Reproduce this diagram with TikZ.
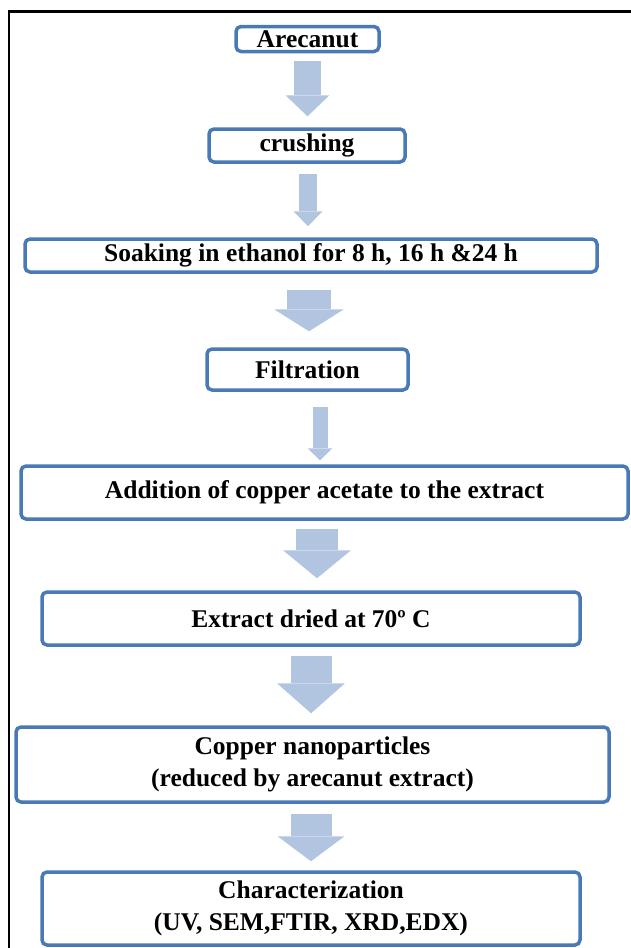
\documentclass[tikz,border=0pt]{standalone}
\usepackage{fontspec}
\setmainfont{Liberation Serif}
\usetikzlibrary{
    arrows.meta,
    positioning,
    calc
}

\begin{document}
\begin{tikzpicture}[x=1pt, y=-1pt]
% Define palette
\definecolor{boxblue}{RGB}{74, 122, 182}
\definecolor{arrowblue}{RGB}{178, 197, 224}

\tikzset{
    stepbox/.style={draw=boxblue, line width=3.5pt, rounded corners=5pt, fill=white,
        align=center, inner sep=0pt,
        font=\fontsize{25.5}{32}\selectfont\bfseries},
    flowarrow/.style n args={3}{draw=arrowblue, line width=#1pt,
        -{Triangle[width=#2pt, length=#3pt, line width=0pt]}}
}

\useasboundingbox (0,0) rectangle (631,948);

% outer frame
\draw[line width=2.5pt] (650,11.5) -- (9,11.5) -- (9,970);

% steps
\node[stepbox, minimum width=143, minimum height=25] (nut) at (307.5,39) {Arecanut};
\node[stepbox, minimum width=196, minimum height=33] (crush) at (307,145.5) {crushing};
\node[stepbox, minimum width=572, minimum height=33] (soak) at (311,255.5) {Soaking in ethanol for 8 h, 16 h \&24 h};
\node[stepbox, minimum width=201, minimum height=41] (filt) at (307.5,369.5) {Filtration};
\node[stepbox, minimum width=607, minimum height=53] (add) at (324.5,492.5) {Addition of copper acetate to the extract};
\node[stepbox, minimum width=538, minimum height=53] (dry) at (311,618.5) {Extract dried at 70º C};
\node[stepbox, minimum width=593, minimum height=75] (cunp) at (312.5,764.5) {Copper nanoparticles\\(reduced by arecanut extract)};
\node[stepbox, minimum width=538, minimum height=73] (char) at (311,908.5) {Characterization\\(UV, SEM,FTIR, XRD,EDX)};

% block arrows: from/to/xshift/shaft/head width/head length/gap start/gap end
\foreach \a/\b/\dx/\sw/\hw/\hl/\gs/\ge in {
    nut/crush/0/27/44/21/8/11,
    crush/soak/1/18/29/15/10/11,
    soak/filt/-2/44/70/22/16/16,
    filt/add/12.5/15/25/12/15/4,
    add/dry/-7.5/42/68/28/8/12,
    dry/cunp/0/41/68/30/9/12,
    cunp/char/-1.5/41/67/25/10/9
} {
    \draw[flowarrow={\sw}{\hw}{\hl}, shorten <=\gs pt, shorten >=\ge pt]
        ($(\a.south)+(\dx,0)$) -- ($(\b.north -| \a.south)+(\dx,0)$);
}
\end{tikzpicture}
\end{document}
